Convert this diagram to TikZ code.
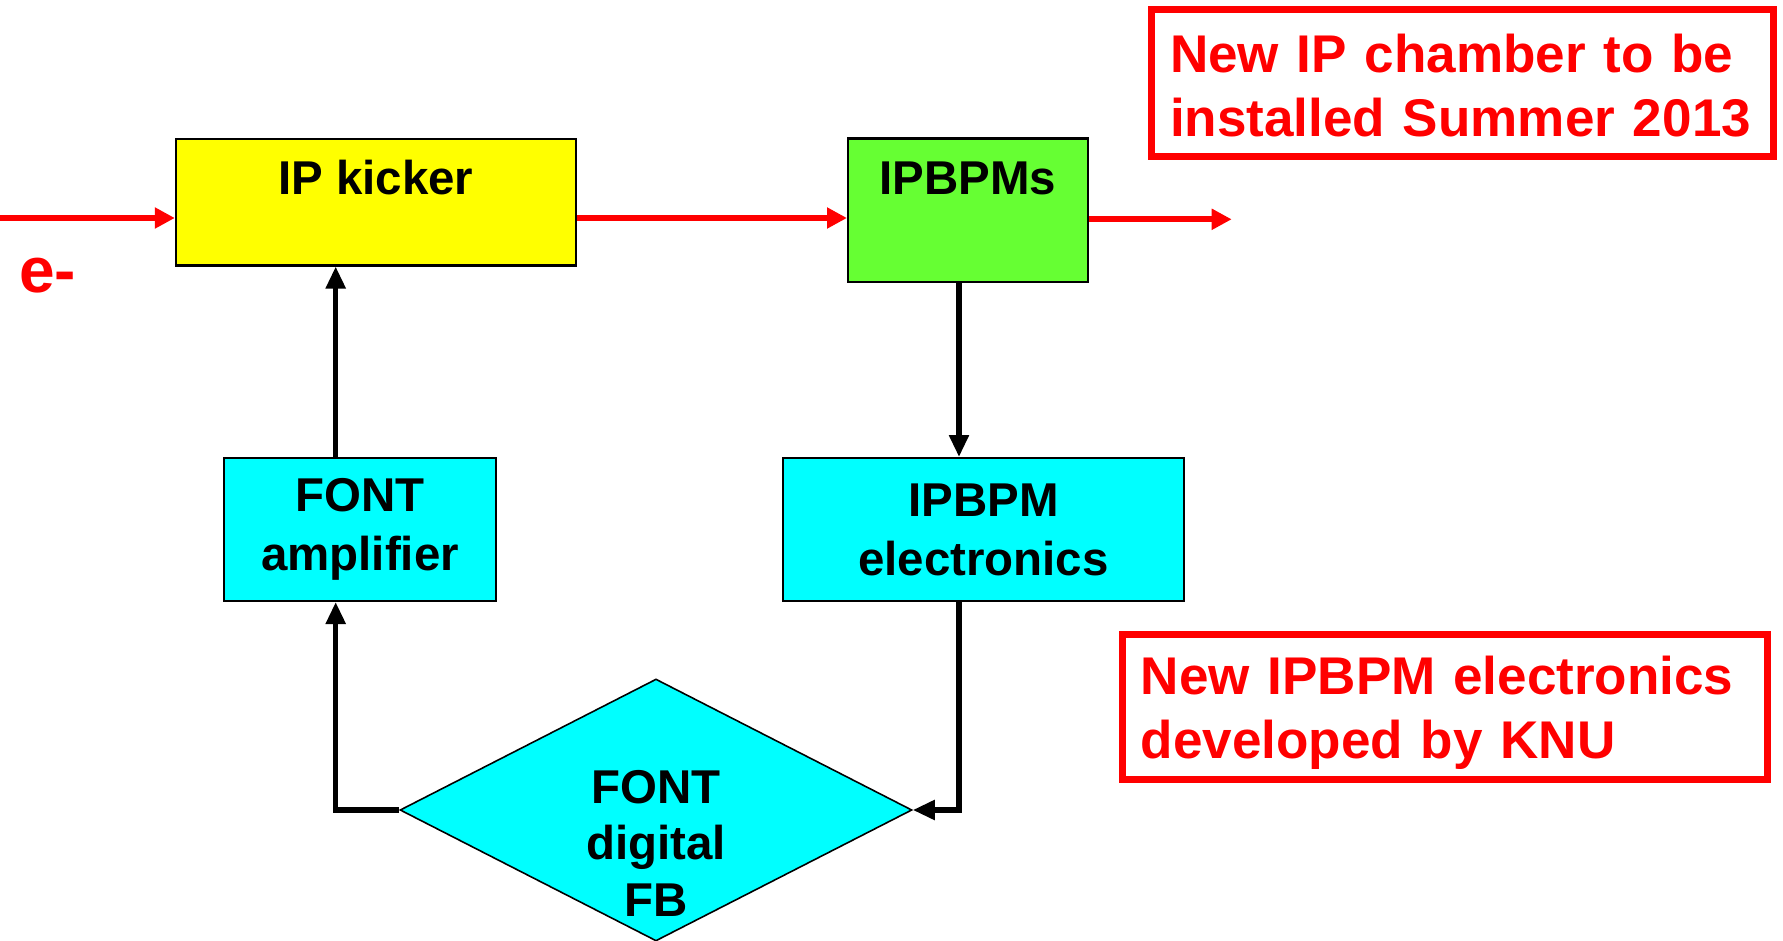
\documentclass[tikz,border=0pt]{standalone}
\usepackage{fontspec}
\setmainfont{Liberation Sans}
\usetikzlibrary{shapes.geometric,arrows.meta}
\definecolor{kickyellow}{RGB}{255,255,0}
\definecolor{bpmgreen}{RGB}{102,255,51}
\definecolor{fontcyan}{RGB}{0,255,255}
\definecolor{notered}{RGB}{255,0,0}
\begin{document}
\begin{tikzpicture}[
                blk/.style={rectangle,draw=black,line width=0.57pt,inner sep=0pt,
                font=\fontsize{13.5}{16.8}\selectfont\bfseries,align=center},
                dia/.style={diamond,draw=black,line width=0.45pt,fill=fontcyan,inner sep=0pt,
                aspect=1.954,minimum width=5.12cm,minimum height=2.62cm,
                font=\fontsize{13.5}{16.2}\selectfont\bfseries,align=center},
                note/.style={rectangle,draw=notered,line width=2pt,fill=white,text=notered,
                inner xsep=0.185cm,inner ysep=0pt,align=left,
                font=\fontsize{15.1}{18.2}\selectfont\bfseries},
                beam/.style={notered,line width=1.7pt,-{Triangle[length=0.2cm,width=0.2cm]}},
                sig/.style={black,line width=1.5pt,-{Triangle[length=0.22cm,width=0.19cm]}}]
                \useasboundingbox (0,0) rectangle (17.83,9.40);
                \node (kick) at (3.7585,7.3775) [blk,fill=kickyellow,minimum width=4.0cm,
                    text height=0.55cm,text depth=0.715cm] {IP kicker};
                \node (bpm) at (9.68,7.2975) [blk,fill=bpmgreen,minimum width=2.40cm,
                    text height=0.555cm,text depth=0.88cm] {IPBPMs};
                \node (amp) at (3.60,4.105) [blk,fill=fontcyan,minimum width=2.72cm,
                    minimum height=1.43cm] {FONT\\amplifier};
                \node (elec) at (9.835,4.105) [blk,fill=fontcyan,minimum width=4.01cm,
                    minimum height=1.43cm] {IPBPM\\electronics};
                \node (fb) at (6.56,1.30) [dia,text width=1.6cm,text height=0.4cm,
                    text depth=0.54cm] {FONT\\digital\\FB};
                \node (e) at (0.475,6.48) [anchor=base,text=notered,
                    font=\fontsize{18.2}{20}\selectfont\bfseries] {e-};
                \node (n1) at (14.625,8.57) [note,text width=5.85cm,minimum height=1.47cm,
                    text height=0.5cm,text depth=0.704cm]
                    {New IP chamber to be\\installed Summer 2013};
                \node (n2) at (14.45,2.33) [note,text width=6.085cm,minimum height=1.455cm,
                    text height=0.5cm,text depth=0.746cm]
                    {New IPBPM electronics\\developed by KNU};
                % beam line
                \coordinate (in) at (0,7.22);
                \coordinate (out) at (12.317,7.207);
                \draw[beam] (in) -- (in -| kick.west);
                \draw[beam] (in -| kick.east) -- (in -| bpm.west);
                \draw[beam] (out -| bpm.east) -- (out);
                % feedback loop
                \coordinate (l) at (3.357,0);
                \coordinate (r) at (9.59,0);
                \draw[sig] (bpm.south -| r) -- (elec.north -| r);
                \draw[sig] (elec.south -| r) |- (fb.east);
                \draw[sig] (fb.west) -| (amp.south -| l);
                \draw[sig] (amp.north -| l) -- (kick.south -| l);
            \end{tikzpicture}
\end{document}
